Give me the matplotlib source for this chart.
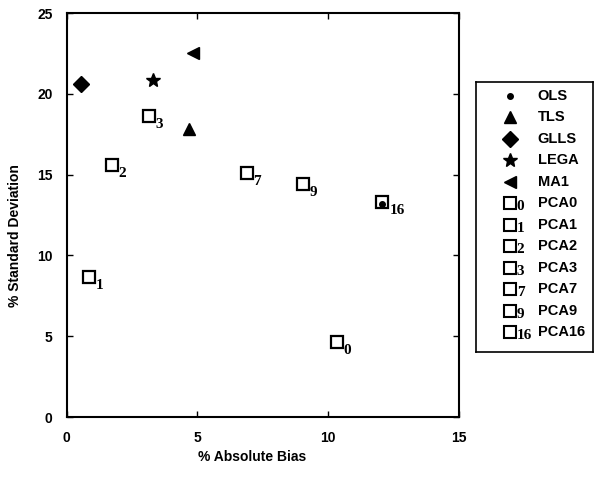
import matplotlib
matplotlib.use("Agg")
import matplotlib.pyplot as plt

# Point values (x: % absolute bias, y: % standard deviation)
methods = ["OLS", "TLS", "GLLS", "LEGA", "MA1"]
method_x = [12.07, 4.68, 0.55, 3.30, 4.83]
method_y = [13.2, 17.8, 20.6, 20.85, 22.5]
method_markers = ["o", "^", "D", "*", "<"]
method_sizes = [4, 8, 8, 10, 9]

pca_ids = ["0", "1", "2", "3", "7", "9", "16"]
pca_x = [10.32, 0.85, 1.73, 3.14, 6.88, 9.03, 12.07]
pca_y = [4.64, 8.66, 15.6, 18.6, 15.1, 14.4, 13.3]

x_ticks = [0, 5, 10, 15]
y_ticks = [0, 5, 10, 15, 20, 25]

plt.rcParams["font.family"] = ["Liberation Sans", "DejaVu Sans"]

fig = plt.figure(figsize=(6, 4.78), dpi=100)
ax = fig.add_axes([0.111, 0.1276, 0.654, 0.845])

# PCA squares (hollow) with serif subscript labels
for px, py, pid in zip(pca_x, pca_y, pca_ids):
    ax.plot(px, py, marker="s", markersize=9, markerfacecolor="white",
            markeredgecolor="black", markeredgewidth=1.6, linestyle="none")
    ax.annotate(pid, (px, py), xytext=(5, -6), textcoords="offset points",
                fontsize=11, family=["Liberation Serif"], fontweight="bold",
                va="center", ha="left")

# other methods (filled)
for mx, my, mk, ms in zip(method_x, method_y, method_markers, method_sizes):
    ax.plot(mx, my, marker=mk, markersize=ms, color="black", linestyle="none")

ax.set_xlim(0, 15)
ax.set_ylim(0, 25)
ax.set_xticks(x_ticks)
ax.set_yticks(y_ticks)
ax.tick_params(direction="in", length=4, width=1, right=True, top=True,
               labelsize=10, pad=10)
for lab in ax.get_xticklabels() + ax.get_yticklabels():
    lab.set_fontweight("bold")
for sp in ax.spines.values():
    sp.set_linewidth(1.5)

ax.set_xlabel("% Absolute Bias", fontsize=10, fontweight="bold")
ax.set_ylabel("% Standard Deviation", fontsize=10, fontweight="bold")
ax.xaxis.set_label_coords(0.472, -0.082)
ax.yaxis.set_label_coords(-0.114, 0.448)

# hand-built legend box on the right
lax = fig.add_axes([0.793, 0.2636, 0.195, 0.565])
lax.set_xlim(0, 1)
lax.set_ylim(0, 1)
lax.set_xticks([])
lax.set_yticks([])
for sp in lax.spines.values():
    sp.set_linewidth(1.2)

n = len(methods) + len(pca_ids)
rows = [1 - (14 + 21.5 * i) / 270 for i in range(n)]
for i, (name, mk, ms) in enumerate(zip(methods, method_markers, method_sizes)):
    lax.plot(0.29, rows[i], marker=mk, markersize=ms, color="black", linestyle="none")
    lax.text(0.53, rows[i], name, fontsize=10.5, fontweight="bold", va="center")
for j, pid in enumerate(pca_ids):
    r = rows[len(methods) + j]
    lax.plot(0.29, r, marker="s", markersize=8, markerfacecolor="white",
             markeredgecolor="black", markeredgewidth=1.5, linestyle="none")
    lax.text(0.35, r - 0.012, pid, fontsize=11, family=["Liberation Serif"],
             fontweight="bold", va="center")
    lax.text(0.53, r, "PCA" + pid, fontsize=10.5, fontweight="bold", va="center")

fig.savefig("out.png", dpi=100)
